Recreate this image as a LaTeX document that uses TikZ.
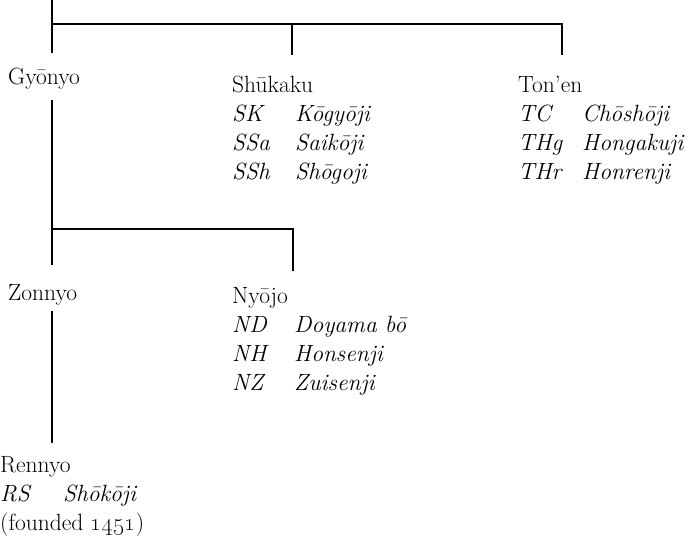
\documentclass[tikz,border=0pt]{standalone}
\begin{document}
\begin{tikzpicture}[x=1pt,y=-1pt,
  lbl/.style={anchor=base west,inner sep=0pt,font=\fontsize{23.5}{29}\selectfont},
  ab/.style={lbl,font=\fontsize{23.5}{29}\selectfont\itshape},
  tree/.style={line width=1.1pt}]
\useasboundingbox (0,0) rectangle (697,547);
% names
\node[lbl] (gyonyo) at (8,84) {Gyōnyo};
\node[lbl] (shukaku) at (232,92) {Shūkaku};
\node[ab] (sk) at (232,121) {SK};
\node[ab] (skn) at (295,121) {Kōgyōji};
\node[ab] (ssa) at (232,150) {SSa};
\node[ab] (ssan) at (295,150) {Saikōji};
\node[ab] (ssh) at (232,179) {SSh};
\node[ab] (sshn) at (295,179) {Shōgoji};
\node[lbl] (tonen) at (518,92) {Ton’en};
\node[ab] (tc) at (518,121) {TC};
\node[ab] (tcn) at (582,121) {Chōshōji};
\node[ab] (thg) at (518,150) {THg};
\node[ab] (thgn) at (582,150) {Hongakuji};
\node[ab] (thr) at (518,179) {THr};
\node[ab] (thrn) at (582,179) {Honrenji};
\node[lbl] (zonnyo) at (8,300) {Zonnyo};
\node[lbl] (nyojo) at (232,303) {Nyōjo};
\node[ab] (nd) at (232,332) {ND};
\node[ab] (ndn) at (294,332) {Doyama bō};
\node[ab] (nh) at (232,361) {NH};
\node[ab] (nhn) at (294,361) {Honsenji};
\node[ab] (nz) at (232,390) {NZ};
\node[ab] (nzn) at (294,390) {Zuisenji};
\node[lbl] (rennyo) at (0,472) {Rennyo};
\node[ab] (rs) at (0,501) {RS};
\node[ab] (rsn) at (63,501) {Shōkōji};
\node[lbl] (founded) at (0,530) {(founded \oldstylenums{1451})};
% junction coordinates
\coordinate (root) at (52,0);
\coordinate (j1) at (52,24);
\coordinate (j1m) at (292,24);
\coordinate (j1r) at (562,24);
\coordinate (gtop) at (52,53);
\coordinate (stop) at (292,55);
\coordinate (ttop) at (562,55);
\coordinate (gbot) at (52,100);
\coordinate (j2) at (52,229);
\coordinate (j2r) at (293,229);
\coordinate (ztop) at (52,265);
\coordinate (ntop) at (293,271);
\coordinate (zbot) at (52,311);
\coordinate (rtop) at (52,443);
% connectors
\draw[tree] (root) -- (j1) -- (j1r) -- (ttop);
\draw[tree] (j1) -- (gtop);
\draw[tree] (j1m) -- (stop);
\draw[tree] (gbot) -- (j2) -- (j2r) -- (ntop);
\draw[tree] (j2) -- (ztop);
\draw[tree] (zbot) -- (rtop);
\end{tikzpicture}
\end{document}
